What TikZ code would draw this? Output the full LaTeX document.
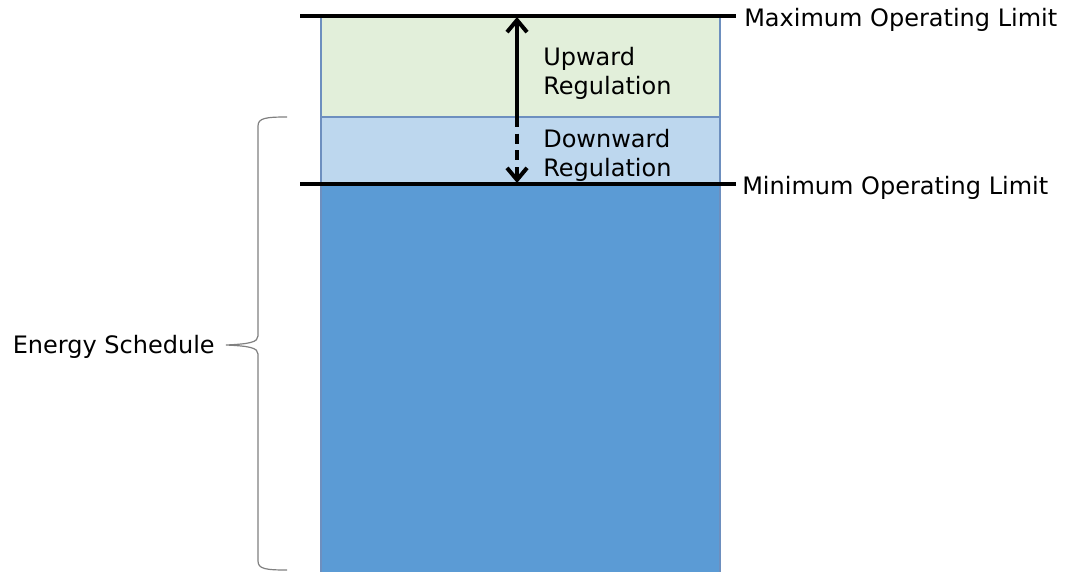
\documentclass[tikz,border=0pt]{standalone}
\usepackage{fontspec}
\setmainfont{DejaVu Sans}
\usetikzlibrary{arrows.meta}
\definecolor{upgreen}{HTML}{E2EFDA}
\definecolor{downblue}{HTML}{BDD7EE}
\definecolor{schedblue}{HTML}{5B9BD5}
\definecolor{edgeblue}{HTML}{6D8FBF}
\definecolor{bracegray}{HTML}{808080}
\tikzset{
  band/.style={draw=edgeblue, line width=0.9pt},
  limitline/.style={line width=3pt, black},
  lbl/.style={inner sep=0pt, font=\fontsize{18}{21.75}\selectfont, text=black},
  regarrow/.style={line width=3pt, black},
}
\begin{document}
\begin{tikzpicture}[x=0.75pt,y=-0.75pt]
\useasboundingbox (0,0) rectangle (1066,571);
% bands
\filldraw[band, fill=schedblue] (321,184) rectangle (720,575);
\filldraw[band, fill=downblue] (321,117) rectangle (720,184);
\filldraw[band, fill=upgreen] (321,16) rectangle (720,117);
% limit lines
\coordinate (maxL) at (300,16);
\coordinate (maxR) at (736,16);
\coordinate (minL) at (300,184);
\coordinate (minR) at (736,184);
\draw[limitline] (maxL) -- (maxR);
\draw[limitline] (minL) -- (minR);
\node[lbl, anchor=west] (maxlbl) at (744,20) {Maximum Operating Limit};
\node[lbl, anchor=west] (minlbl) at (742,188) {Minimum Operating Limit};
% regulation arrow
\coordinate (atop) at (517,17);
\coordinate (amid) at (517,117);
\coordinate (abot) at (517,183);
\draw[regarrow, -{Straight Barb[length=9pt,width=15pt]}] (amid) -- (atop);
\draw[regarrow, dash pattern=on 7.5pt off 5pt, -{Straight Barb[length=9pt,width=15pt]}] (amid) -- (abot);
\node[lbl, anchor=west, align=left] (uplbl) at (543,73) {Upward\\Regulation};
\node[lbl, anchor=west, align=left] (downlbl) at (543,155) {Downward\\Regulation};
% brace
\coordinate (btop) at (287,117);
\coordinate (bbot) at (287,570);
\coordinate (btip) at (226,345);
\draw[bracegray, line width=0.9pt]
  (btop) .. controls (266,117) and (258,118) .. (258,126)
  -- (258,336) .. controls (258,342) and (250,344) .. (btip)
  .. controls (250,346) and (258,348) .. (258,354)
  -- (258,561) .. controls (258,569) and (266,570) .. (bbot);
\node[lbl, anchor=east] (esched) at (215,347) {Energy Schedule};
\end{tikzpicture}
\end{document}
